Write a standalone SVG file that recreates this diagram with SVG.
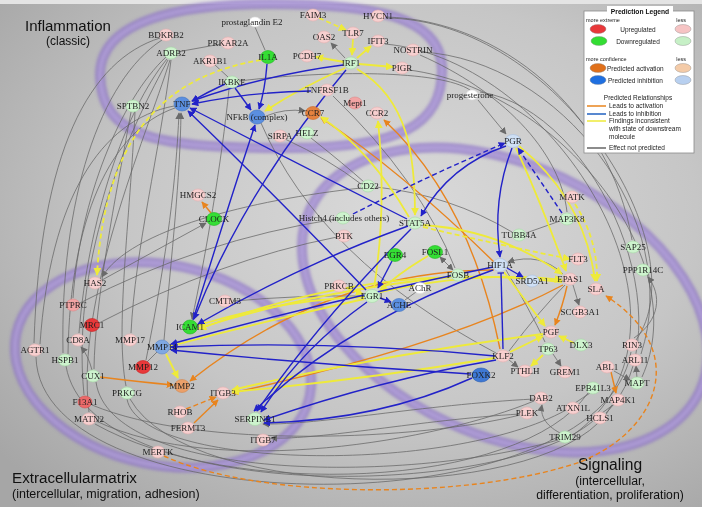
<svg xmlns="http://www.w3.org/2000/svg" width="702" height="507" viewBox="0 0 702 507">
<defs>
<radialGradient id="bg" cx="58%" cy="42%" r="75%">
<stop offset="0" stop-color="#dadada"/><stop offset="0.55" stop-color="#c6c6c6"/><stop offset="1" stop-color="#a6a6a6"/>
</radialGradient>
<filter id="blur" x="-10%" y="-10%" width="120%" height="120%"><feGaussianBlur stdDeviation="1.6"/></filter>
<marker id="ab" viewBox="0 0 10 10" refX="9" refY="5" markerWidth="7" markerHeight="7" markerUnits="userSpaceOnUse" orient="auto"><path d="M0,0 L10,5 L0,10 z" fill="#2222c8"/></marker>
<marker id="ay" viewBox="0 0 10 10" refX="9" refY="5" markerWidth="8" markerHeight="8" markerUnits="userSpaceOnUse" orient="auto"><path d="M0,0 L10,5 L0,10 z" fill="#eeea3a"/></marker>
<marker id="ao" viewBox="0 0 10 10" refX="9" refY="5" markerWidth="7" markerHeight="7" markerUnits="userSpaceOnUse" orient="auto"><path d="M0,0 L10,5 L0,10 z" fill="#e8841e"/></marker>
<marker id="ag" viewBox="0 0 10 10" refX="9" refY="5" markerWidth="7" markerHeight="7" markerUnits="userSpaceOnUse" orient="auto"><path d="M0,0 L10,5 L0,10 z" fill="#6a6a6a"/></marker>
<marker id="ags" viewBox="0 0 10 10" refX="9" refY="5" markerWidth="7" markerHeight="7" markerUnits="userSpaceOnUse" orient="auto-start-reverse"><path d="M0,0 L10,5 L0,10 z" fill="#6a6a6a"/></marker>
<marker id="tb" viewBox="0 0 10 10" refX="9" refY="5" markerWidth="7" markerHeight="7" markerUnits="userSpaceOnUse" orient="auto"><path d="M9,0 L9,10" stroke="#2222c8" stroke-width="2"/></marker>
</defs>
<style>
.b{stroke:#2222c8;stroke-width:1.4;fill:none}
.y{stroke:#eeea3a;stroke-width:1.8;fill:none}
.o{stroke:#e8841e;stroke-width:1.4;fill:none}
.g{stroke:#666666;stroke-width:0.75;fill:none}
.d{stroke-dasharray:5 3}
.band{fill:none;stroke:#8b72c6;stroke-width:10;opacity:0.7}
.bandi{fill:none;stroke:#bba9e4;stroke-width:4;opacity:0.55}
.u1{fill:#f7cfcf;stroke:#e6b0b0;stroke-width:0.6}
.u2{fill:#f2a4a4;stroke:#dd8888;stroke-width:0.6}
.u3{fill:#ec6a6a;stroke:#d05050;stroke-width:0.6}
.ur{fill:#e8383a;stroke:#c82020;stroke-width:0.6}
.d1{fill:#cdf3cd;stroke:#a6daa6;stroke-width:0.6}
.d2{fill:#34de34;stroke:#22b522;stroke-width:0.6}
.ac{fill:#e5823f;stroke:#c86a2a;stroke-width:0.6}
.ac2{fill:#eba06a;stroke:#d08850;stroke-width:0.6}
.ih{fill:#5b8fe0;stroke:#3f72c0;stroke-width:0.6}
.ihd{fill:#3e78d4;stroke:#2a5cb0;stroke-width:0.6}
.ihm{fill:#7fa8e2;stroke:#5f88c6;stroke-width:0.6}
.ih2{fill:#cfe0f5;stroke:#a8c0e0;stroke-width:0.6}
.wh{fill:#ffffff;stroke:#dddddd;stroke-width:0.6}
.t{font-family:"Liberation Serif","DejaVu Serif",serif;font-size:9px;fill:#1e1e1e;text-anchor:middle}
.big{font-family:"Liberation Sans",Arial,sans-serif;fill:#111}
.lg{font-family:"Liberation Sans",Arial,sans-serif;font-size:6.5px;fill:#222}
.lgs{font-family:"Liberation Sans",Arial,sans-serif;font-size:5.5px;fill:#222}
.le{stroke:#888;stroke-width:0.4}
</style>
<rect x="0" y="0" width="702" height="507" fill="url(#bg)"/>
<rect x="0" y="0" width="702" height="4" fill="#e4e4e4"/>

<g id="regions" filter="url(#blur)">
<path class="band" d="M100,75 C100,20 180,4 270,4 C370,4 442,15 442,70 C442,125 400,148 290,148 C160,148 102,140 100,75 Z"/>
<path class="bandi" d="M100,75 C100,20 180,4 270,4 C370,4 442,15 442,70 C442,125 400,148 290,148 C160,148 102,140 100,75 Z"/>
<ellipse class="band" cx="163" cy="365" rx="150" ry="100" transform="rotate(12 163 365)"/>
<ellipse class="bandi" cx="163" cy="365" rx="150" ry="100" transform="rotate(12 163 365)"/>
<ellipse class="band" cx="505" cy="300" rx="215" ry="135" transform="rotate(25 505 300)"/>
<ellipse class="bandi" cx="505" cy="300" rx="215" ry="135" transform="rotate(25 505 300)"/>
</g>

<g id="region-labels">
<text class="big" x="25" y="31" font-size="15">Inflammation</text>
<text class="big" x="68" y="45" font-size="12" text-anchor="middle">(classic)</text>
<text class="big" x="12" y="483" font-size="15.2">Extracellularmatrix</text>
<text class="big" x="12" y="498" font-size="12.5">(intercellular, migration, adhesion)</text>
<text class="big" x="610" y="470" font-size="15.6" text-anchor="middle">Signaling</text>
<text class="big" x="610" y="485" font-size="12.3" text-anchor="middle">(intercellular,</text>
<text class="big" x="610" y="499" font-size="12.2" text-anchor="middle">differentiation, proliferation)</text>
</g>

<g id="connectors">
<!-- gray -->
<path class="g" d="M160,38 C90,60 40,150 34,343"/>
<path class="g" d="M162,40 C100,80 60,200 63,353"/>
<path class="g" d="M166,57 C120,100 80,200 73,298"/>
<path class="g" d="M167,59 C125,110 88,220 79,333"/>
<path class="g" d="M168,60 C135,120 70,250 84,395"/>
<path class="g" d="M170,60 C145,140 75,300 89,412"/>
<path class="g" d="M171,60 C160,150 135,250 131,333"/>
<path class="g" d="M131,112 C115,200 95,300 94,369"/>
<path class="g" d="M135,112 C130,220 115,330 126,386"/>
<path class="g" d="M40,344 C50,200 100,120 174,106"/>
<path class="g" d="M68,354 C70,220 110,130 175,108"/>
<path class="g" stroke-width="1.4" d="M164,340 C172,250 180,180 181,113" marker-end="url(#ag)"/>
<path class="g" stroke-width="1.2" d="M146,360 C168,250 176,180 179,113" marker-end="url(#ag)"/>
<path class="g" d="M361,188 C250,200 130,230 102,277" marker-end="url(#ag)"/>
<path class="g" d="M229,89 C222,160 205,260 192,319" marker-end="url(#ag)"/>
<path class="g" d="M102,280 L206,223" marker-end="url(#ag)"/>
<path class="g" d="M266,116 Q285,108 305,111" marker-end="url(#ag)"/>
<path class="g" d="M80,303 Q200,240 336,219"/>
<path class="g" d="M99,323 Q220,260 337,237"/>
<path class="g" d="M285,139 Q330,160 361,184"/>
<path class="g" d="M311,138 Q345,165 364,182"/>
<path class="g" d="M478,100 L506,134" marker-end="url(#ag)"/>
<path class="g" d="M345,58 L331,43" marker-end="url(#ag)"/>
<path class="g" d="M255,27 L265,50"/>
<path class="g" d="M215,65 L228,77"/>
<path class="g" d="M177,52 L221,44"/>
<path class="g" d="M239,81 C330,70 440,70 470,90"/>
<path class="g" d="M333,96 Q420,180 455,268"/>
<path class="g" d="M261,123 Q320,260 496,353"/>
<path class="g" d="M526,233 L560,221"/>
<path class="g" d="M573,285 L579,305" marker-end="url(#ag)"/>
<path class="g" stroke-width="1" d="M440,257 L453,270" marker-start="url(#ags)" marker-end="url(#ags)"/>
<path class="g" d="M553,354 L561,366" marker-end="url(#ag)"/>
<path class="g" d="M509,360 L518,367" marker-end="url(#ag)"/>
<path class="g" d="M614,371 L630,380" marker-end="url(#ag)"/>
<path class="g" d="M637,378 L636,366" marker-end="url(#ag)"/>
<path class="g" d="M560,433 C545,425 540,415 542,405" marker-end="url(#ag)"/>
<path class="g" d="M575,403 L590,393"/>
<path class="g" d="M602,413 L613,405"/>
<path class="g" d="M520,414 C420,420 320,440 271,438" marker-end="url(#ag)"/>
<path class="g" d="M534,399 C420,405 320,425 263,424" marker-end="url(#ag)"/>
<path class="g" d="M416,292 L405,300"/>
<path class="g" d="M234,301 Q300,295 363,296"/>
<path class="g" d="M563,274 Q540,252 508,262" marker-end="url(#ag)"/>
<path class="g" d="M506,270 Q530,310 545,342"/>
<path class="g" d="M509,351 Q540,310 565,285"/>
<path class="g" d="M512,232 Q450,195 376,187"/>
<path class="g" d="M634,338 C660,320 662,295 648,277" marker-end="url(#ag)"/>
<path class="g" d="M386,17 C500,20 610,110 632,240"/>
<path class="g" d="M422,52 C560,60 685,220 641,354"/>
<path class="g" d="M409,70 C560,90 695,260 642,377"/>
<path class="g" d="M385,44 C560,60 720,330 573,435"/>
<path class="g" d="M480,92 C600,110 690,330 606,413"/>
<path class="g" d="M420,55 C500,90 560,150 567,212"/>
<path class="g" d="M386,18 C560,20 700,250 636,340"/>
<path class="g" d="M92,405 C200,450 420,440 520,415"/>
<path class="g" d="M96,421 C220,480 440,440 534,401"/>
<path class="g" d="M127,399 C140,470 450,475 566,410"/>
<path class="g" d="M96,382 C110,480 400,485 558,440"/>
<path class="g" d="M66,366 C90,505 500,500 593,421"/>
<path class="g" d="M36,357 C40,525 600,530 631,352"/>
<path class="g" d="M130,399 C190,505 560,505 612,405"/>
<path class="g" d="M95,424 C230,500 520,490 588,393"/>
<path class="g" d="M147,362 L157,352"/>
<path class="g" d="M92,370 Q88,355 81,347" marker-end="url(#ag)"/>
<!-- orange -->
<path class="o" d="M211,213 L202,202" marker-end="url(#ao)"/>
<path class="o" d="M494,262 Q400,170 321,118" marker-end="url(#ao)"/>
<path class="o" d="M500,349 Q470,200 384,120" marker-end="url(#ao)"/>
<path class="o" d="M494,270 Q330,270 190,381" marker-end="url(#ao)"/>
<path class="o" d="M563,285 Q450,345 232,393" marker-end="url(#ao)"/>
<path class="o" d="M567,286 Q563,305 555,325" marker-end="url(#ao)"/>
<path class="o" d="M100,377 Q140,382 173,385" marker-end="url(#ao)"/>
<path class="o d" d="M186,409 L216,397" marker-end="url(#ao)"/>
<path class="o" d="M194,423 L218,400" marker-end="url(#ao)"/>
<path class="o d" d="M164,456 C260,500 470,500 580,462 C660,430 690,350 606,296" marker-end="url(#ao)"/>
<path class="o" d="M611,372 L616,393" marker-end="url(#ao)"/>
<!-- yellow -->
<path class="y d" d="M319,18 L346,30" marker-end="url(#ay)"/>
<path class="y" d="M353,39 L352,55" marker-end="url(#ay)"/>
<path class="y" d="M357,58 L371,46" marker-end="url(#ay)"/>
<path class="y" d="M359,64 L393,67" marker-end="url(#ay)"/>
<path class="y" d="M344,62 L316,57" marker-end="url(#ay)"/>
<path class="y" d="M345,68 Q300,88 265,111" marker-end="url(#ay)"/>
<path class="y d" d="M261,60 C170,75 105,130 97,275" marker-end="url(#ay)"/>
<path class="y" d="M357,69 C410,100 415,160 415,215" marker-end="url(#ay)"/>
<path class="y" d="M374,288 C385,220 382,160 378,121" marker-end="url(#ay)"/>
<path class="y" d="M409,217 Q370,150 321,117" marker-end="url(#ay)"/>
<path class="y" d="M346,288 L363,294" marker-end="url(#ay)"/>
<path class="y" d="M428,256 Q400,272 380,291" marker-end="url(#ay)"/>
<path class="y" d="M364,297 Q280,300 199,325" marker-end="url(#ay)"/>
<path class="y" d="M451,277 Q320,290 199,328" marker-end="url(#ay)"/>
<path class="y" d="M166,354 L178,378" marker-end="url(#ay)"/>
<path class="y" d="M495,358 Q360,380 232,392" marker-end="url(#ay)"/>
<path class="y" d="M543,334 Q380,355 232,390" marker-end="url(#ay)"/>
<path class="y" d="M562,282 Q380,260 199,329" marker-end="url(#ay)"/>
<path class="y" d="M423,225 Q500,230 562,274" marker-end="url(#ay)"/>
<path class="y" d="M516,148 Q540,200 566,271" marker-end="url(#ay)"/>
<path class="y" d="M519,146 Q585,200 595,281" marker-end="url(#ay)"/>
<path class="y" d="M504,272 Q525,300 545,326" marker-end="url(#ay)"/>
<path class="y d" d="M575,204 Q598,240 597,281" marker-end="url(#ay)"/>
<path class="y d" d="M423,227 Q500,245 570,259" marker-end="url(#ay)"/>
<path class="y" d="M574,343 L559,336" marker-end="url(#ay)"/>
<path class="y" d="M543,355 L531,366" marker-end="url(#ay)"/>
<path class="y" d="M510,352 L543,336" marker-end="url(#ay)"/>
<path class="y" d="M364,299 Q270,320 171,346" marker-end="url(#ay)"/>
<path class="y" d="M380,292 Q480,270 562,280" marker-end="url(#ay)"/>
<!-- blue -->
<path class="b" d="M343,65 Q265,75 192,101" marker-end="url(#ab)"/>
<path class="b" d="M311,91 Q250,92 192,104" marker-end="url(#ab)"/>
<path class="b" d="M225,84 Q208,92 192,101" marker-end="url(#ab)"/>
<path class="b" d="M235,88 L251,110" marker-end="url(#ab)"/>
<path class="b" d="M267,64 Q265,90 259,109" marker-end="url(#ab)"/>
<path class="b" d="M407,219 Q300,165 190,108" marker-end="url(#ab)"/>
<path class="b" d="M366,290 Q270,190 188,111" marker-end="url(#ab)"/>
<path class="b" d="M367,302 Q300,350 261,412" marker-end="url(#ab)"/>
<path class="b" d="M411,229 Q320,320 257,411" marker-end="url(#ab)"/>
<path class="b" d="M493,270 Q350,320 254,411" marker-end="url(#ab)"/>
<path class="b" d="M496,360 Q380,380 264,420" marker-end="url(#ab)"/>
<path class="b" d="M472,378 Q380,420 264,423" marker-end="url(#ab)"/>
<path class="b" d="M495,356 Q330,340 171,347" marker-end="url(#ab)"/>
<path class="b" d="M493,267 Q330,300 171,344" marker-end="url(#ab)"/>
<path class="b" d="M471,374 Q320,365 171,350" marker-end="url(#ab)"/>
<path class="b" d="M408,226 Q300,265 198,324" marker-end="url(#ab)"/>
<path class="b" d="M346,70 Q245,190 194,319" marker-end="url(#ab)"/>
<path class="b" d="M392,261 L378,288" marker-end="url(#ab)"/>
<path class="b" d="M380,298 L391,302" marker-end="url(#ab)"/>
<path class="b" d="M507,268 L523,277" marker-end="url(#ab)"/>
<path class="b" d="M512,148 Q492,200 500,257" marker-end="url(#ab)"/>
<path class="b" d="M503,349 L501,273" marker-end="url(#tb)"/>
<path class="b" d="M506,146 Q450,165 421,216" marker-end="url(#ab)"/>
<path class="b d" d="M353,214 Q430,175 505,143" marker-end="url(#ab)"/>
<path class="b d" d="M562,213 L518,148" marker-end="url(#ab)"/>
<path class="b" d="M193,320 Q230,200 255,125" marker-end="url(#ab)"/>
</g>

<g id="nodes">
<g id="n-BDKRB2"><ellipse class="u1" cx="166" cy="35" rx="7" ry="6"/><text class="t" x="166" y="38">BDKRB2</text></g>
<g id="n-PRKAR2A"><ellipse class="u1" cx="228" cy="43" rx="7" ry="6"/><text class="t" x="228" y="46">PRKAR2A</text></g>
<g id="n-ADRB2"><ellipse class="d1" cx="171" cy="53" rx="7" ry="6"/><text class="t" x="171" y="56">ADRB2</text></g>
<g id="n-AKR1B1"><ellipse class="u1" cx="210" cy="61" rx="7" ry="6"/><text class="t" x="210" y="64">AKR1B1</text></g>
<g id="n-PGE2"><ellipse class="wh" cx="255" cy="22" rx="6" ry="5"/><text class="t" x="252" y="25">prostaglandin E2</text></g>
<g id="n-IL1A"><ellipse class="d2" cx="268" cy="57" rx="7.5" ry="6.5"/><text class="t" x="268" y="60">IL1A</text></g>
<g id="n-IKBKE"><ellipse class="d1" cx="232" cy="82" rx="7" ry="6"/><text class="t" x="232" y="85">IKBKE</text></g>
<g id="n-SPTBN2"><ellipse class="d1" cx="133" cy="106" rx="7" ry="6"/><text class="t" x="133" y="109">SPTBN2</text></g>
<g id="n-TNF"><ellipse class="ih" cx="182" cy="104" rx="8" ry="7"/><text class="t" x="182" y="107">TNF</text></g>
<g id="n-NFKB"><ellipse class="ih" cx="257" cy="117" rx="8" ry="7"/><text class="t" x="257" y="120">NFkB (complex)</text></g>
<g id="n-FAIM3"><ellipse class="u1" cx="313" cy="15" rx="7" ry="6"/><text class="t" x="313" y="18">FAIM3</text></g>
<g id="n-HVCN1"><ellipse class="u1" cx="378" cy="16" rx="7" ry="6"/><text class="t" x="378" y="19">HVCN1</text></g>
<g id="n-OAS2"><ellipse class="u1" cx="324" cy="37" rx="7" ry="6"/><text class="t" x="324" y="40">OAS2</text></g>
<g id="n-TLR7"><ellipse class="u1" cx="353" cy="33" rx="7" ry="6"/><text class="t" x="353" y="36">TLR7</text></g>
<g id="n-IFIT3"><ellipse class="u1" cx="378" cy="41" rx="7" ry="6"/><text class="t" x="378" y="44">IFIT3</text></g>
<g id="n-NOSTRIN"><ellipse class="u1" cx="413" cy="50" rx="7" ry="6"/><text class="t" x="413" y="53">NOSTRIN</text></g>
<g id="n-PCDH7"><ellipse class="u1" cx="307" cy="56" rx="7" ry="6"/><text class="t" x="307" y="59">PCDH7</text></g>
<g id="n-IRF1"><ellipse class="d1" cx="351" cy="63" rx="7" ry="6"/><text class="t" x="351" y="66">IRF1</text></g>
<g id="n-PIGR"><ellipse class="u1" cx="402" cy="68" rx="7" ry="6"/><text class="t" x="402" y="71">PIGR</text></g>
<g id="n-TNFRSF1B"><ellipse class="u1" cx="327" cy="90" rx="7" ry="6"/><text class="t" x="327" y="93">TNFRSF1B</text></g>
<g id="n-MEPT1"><ellipse class="u2" cx="355" cy="103" rx="7" ry="6"/><text class="t" x="355" y="106">Mept1</text></g>
<g id="n-CCR2"><ellipse class="u1" cx="377" cy="113" rx="7" ry="6"/><text class="t" x="377" y="116">CCR2</text></g>
<g id="n-CCR7"><ellipse class="ac" cx="313" cy="113" rx="7.5" ry="6.5"/><text class="t" x="313" y="116">CCR7</text></g>
<g id="n-SIRPA"><ellipse class="u1" cx="280" cy="136" rx="7" ry="6"/><text class="t" x="280" y="139">SIRPA</text></g>
<g id="n-HELZ"><ellipse class="d1" cx="307" cy="133" rx="7" ry="6"/><text class="t" x="307" y="136">HELZ</text></g>
<g id="n-PROG"><ellipse class="wh" cx="472" cy="95" rx="6" ry="5"/><text class="t" x="470" y="98">progesterone</text></g>
<g id="n-PGR"><ellipse class="ih2" cx="513" cy="141" rx="8" ry="6.5"/><text class="t" x="513" y="144">PGR</text></g>
<g id="n-HMGCS2"><ellipse class="u1" cx="198" cy="195" rx="7" ry="6"/><text class="t" x="198" y="198">HMGCS2</text></g>
<g id="n-CLOCK"><ellipse class="d2" cx="214" cy="219" rx="7.5" ry="6.5"/><text class="t" x="214" y="222">CLOCK</text></g>
<g id="n-CD22"><ellipse class="d1" cx="368" cy="186" rx="7" ry="6"/><text class="t" x="368" y="189">CD22</text></g>
<g id="n-HIST"><ellipse class="d1" cx="343" cy="218" rx="7" ry="6"/><text class="t" x="344" y="221">Histch4 (includes others)</text></g>
<g id="n-STAT5A"><ellipse class="d1" cx="415" cy="223" rx="7" ry="6"/><text class="t" x="415" y="226">STAT5A</text></g>
<g id="n-BTK"><ellipse class="u1" cx="344" cy="236" rx="7" ry="6"/><text class="t" x="344" y="239">BTK</text></g>
<g id="n-EGR4"><ellipse class="d2" cx="395" cy="255" rx="7.5" ry="6.5"/><text class="t" x="395" y="258">EGR4</text></g>
<g id="n-FOSL1"><ellipse class="d2" cx="435" cy="252" rx="7.5" ry="6.5"/><text class="t" x="435" y="255">FOSL1</text></g>
<g id="n-FOSB"><ellipse class="d1" cx="458" cy="275" rx="7" ry="6"/><text class="t" x="458" y="278">FOSB</text></g>
<g id="n-PRKCB"><ellipse class="u1" cx="339" cy="286" rx="7" ry="6"/><text class="t" x="339" y="289">PRKCB</text></g>
<g id="n-EGR1"><ellipse class="d1" cx="372" cy="296" rx="7.5" ry="6.5"/><text class="t" x="372" y="299">EGR1</text></g>
<g id="n-ACHE"><ellipse class="ih" cx="399" cy="305" rx="7.5" ry="6.5"/><text class="t" x="399" y="308">ACHE</text></g>
<g id="n-ACHR"><ellipse class="wh" cx="420" cy="288" rx="6.5" ry="5.5"/><text class="t" x="420" y="291">AChR</text></g>
<g id="n-MATK"><ellipse class="u1" cx="572" cy="197" rx="7" ry="6"/><text class="t" x="572" y="200">MATK</text></g>
<g id="n-MAP3K8"><ellipse class="d1" cx="567" cy="219" rx="7" ry="6"/><text class="t" x="567" y="222">MAP3K8</text></g>
<g id="n-TUBB4A"><ellipse class="d1" cx="519" cy="235" rx="7" ry="6"/><text class="t" x="519" y="238">TUBB4A</text></g>
<g id="n-SAP25"><ellipse class="d1" cx="633" cy="247" rx="7" ry="6"/><text class="t" x="633" y="250">SAP25</text></g>
<g id="n-PPP1R14C"><ellipse class="d1" cx="643" cy="270" rx="7" ry="6"/><text class="t" x="643" y="273">PPP1R14C</text></g>
<g id="n-HIF1A"><ellipse class="ih2" cx="500" cy="265" rx="7.5" ry="6.5"/><text class="t" x="500" y="268">HIF1A</text></g>
<g id="n-SRD5A1"><ellipse class="ih2" cx="532" cy="281" rx="7" ry="6"/><text class="t" x="532" y="284">SRD5A1</text></g>
<g id="n-EPAS1"><ellipse class="u1" cx="570" cy="279" rx="7" ry="6"/><text class="t" x="570" y="282">EPAS1</text></g>
<g id="n-FLT3"><ellipse class="u1" cx="578" cy="259" rx="7" ry="6"/><text class="t" x="578" y="262">FLT3</text></g>
<g id="n-SLA"><ellipse class="u1" cx="596" cy="289" rx="7" ry="6"/><text class="t" x="596" y="292">SLA</text></g>
<g id="n-SCGB3A1"><ellipse class="u1" cx="580" cy="312" rx="7" ry="6"/><text class="t" x="580" y="315">SCGB3A1</text></g>
<g id="n-PGF"><ellipse class="u1" cx="551" cy="332" rx="7" ry="6"/><text class="t" x="551" y="335">PGF</text></g>
<g id="n-DLX3"><ellipse class="d1" cx="581" cy="345" rx="7" ry="6"/><text class="t" x="581" y="348">DLX3</text></g>
<g id="n-TP63"><ellipse class="d1" cx="548" cy="349" rx="7" ry="6"/><text class="t" x="548" y="352">TP63</text></g>
<g id="n-KLF2"><ellipse class="u1" cx="503" cy="356" rx="7" ry="6"/><text class="t" x="503" y="359">KLF2</text></g>
<g id="n-PTHLH"><ellipse class="u1" cx="525" cy="371" rx="7" ry="6"/><text class="t" x="525" y="374">PTHLH</text></g>
<g id="n-GREM1"><ellipse class="u1" cx="565" cy="372" rx="7" ry="6"/><text class="t" x="565" y="375">GREM1</text></g>
<g id="n-RIN3"><ellipse class="u1" cx="632" cy="345" rx="7" ry="6"/><text class="t" x="632" y="348">RIN3</text></g>
<g id="n-ARL11"><ellipse class="u1" cx="635" cy="360" rx="7" ry="6"/><text class="t" x="635" y="363">ARL11</text></g>
<g id="n-ABL1"><ellipse class="u1" cx="607" cy="367" rx="7" ry="6"/><text class="t" x="607" y="370">ABL1</text></g>
<g id="n-FOXK2"><ellipse class="ihd" cx="481" cy="375" rx="9" ry="7"/><text class="t" x="481" y="378">FOXK2</text></g>
<g id="n-MAPT"><ellipse class="d1" cx="637" cy="383" rx="7" ry="6"/><text class="t" x="637" y="386">MAPT</text></g>
<g id="n-EPB41L3"><ellipse class="d1" cx="593" cy="388" rx="7" ry="6"/><text class="t" x="593" y="391">EPB41L3</text></g>
<g id="n-DAB2"><ellipse class="u1" cx="541" cy="398" rx="7" ry="6"/><text class="t" x="541" y="401">DAB2</text></g>
<g id="n-MAP4K1"><ellipse class="u1" cx="618" cy="400" rx="7" ry="6"/><text class="t" x="618" y="403">MAP4K1</text></g>
<g id="n-ATXN1L"><ellipse class="u1" cx="573" cy="408" rx="7" ry="6"/><text class="t" x="573" y="411">ATXN1L</text></g>
<g id="n-PLEK"><ellipse class="u1" cx="527" cy="413" rx="7" ry="6"/><text class="t" x="527" y="416">PLEK</text></g>
<g id="n-HCLS1"><ellipse class="u1" cx="600" cy="418" rx="7" ry="6"/><text class="t" x="600" y="421">HCLS1</text></g>
<g id="n-TRIM29"><ellipse class="d1" cx="565" cy="437" rx="7" ry="6"/><text class="t" x="565" y="440">TRIM29</text></g>
<g id="n-HAS2"><ellipse class="u1" cx="95" cy="283" rx="7" ry="6"/><text class="t" x="95" y="286">HAS2</text></g>
<g id="n-PTPRC"><ellipse class="u2" cx="73" cy="305" rx="7" ry="6"/><text class="t" x="73" y="308">PTPRC</text></g>
<g id="n-MRC1"><ellipse class="ur" cx="92" cy="325" rx="7.5" ry="6.5"/><text class="t" x="92" y="328">MRC1</text></g>
<g id="n-CD8A"><ellipse class="u1" cx="78" cy="340" rx="7" ry="6"/><text class="t" x="78" y="343">CD8A</text></g>
<g id="n-MMP17"><ellipse class="u1" cx="130" cy="340" rx="7" ry="6"/><text class="t" x="130" y="343">MMP17</text></g>
<g id="n-AGTR1"><ellipse class="u1" cx="35" cy="350" rx="7" ry="6"/><text class="t" x="35" y="353">AGTR1</text></g>
<g id="n-HSPB1"><ellipse class="d1" cx="65" cy="360" rx="7" ry="6"/><text class="t" x="65" y="363">HSPB1</text></g>
<g id="n-CUX1"><ellipse class="d1" cx="93" cy="376" rx="7" ry="6"/><text class="t" x="93" y="379">CUX1</text></g>
<g id="n-ICAM1"><ellipse class="d2" cx="190" cy="327" rx="7.5" ry="7"/><text class="t" x="190" y="330">ICAM1</text></g>
<g id="n-MMP14"><ellipse class="ihm" cx="162" cy="347" rx="7.5" ry="7"/><text class="t" x="162" y="350">MMP14</text></g>
<g id="n-MMP12"><ellipse class="ur" cx="143" cy="367" rx="7.5" ry="6.5"/><text class="t" x="143" y="370">MMP12</text></g>
<g id="n-CMTM3"><ellipse class="u1" cx="225" cy="301" rx="7" ry="6"/><text class="t" x="225" y="304">CMTM3</text></g>
<g id="n-PRKCG"><ellipse class="d1" cx="127" cy="393" rx="7" ry="6"/><text class="t" x="127" y="396">PRKCG</text></g>
<g id="n-MMP2"><ellipse class="ac2" cx="182" cy="386" rx="7.5" ry="6.5"/><text class="t" x="182" y="389">MMP2</text></g>
<g id="n-ITGB3"><ellipse class="u1" cx="223" cy="393" rx="7" ry="6"/><text class="t" x="223" y="396">ITGB3</text></g>
<g id="n-F13A1"><ellipse class="u3" cx="85" cy="402" rx="7" ry="6"/><text class="t" x="85" y="405">F13A1</text></g>
<g id="n-MATN2"><ellipse class="u1" cx="89" cy="419" rx="7" ry="6"/><text class="t" x="89" y="422">MATN2</text></g>
<g id="n-RHOB"><ellipse class="u1" cx="180" cy="412" rx="7" ry="6"/><text class="t" x="180" y="415">RHOB</text></g>
<g id="n-FERMT3"><ellipse class="u1" cx="188" cy="428" rx="7" ry="6"/><text class="t" x="188" y="431">FERMT3</text></g>
<g id="n-MERTK"><ellipse class="u1" cx="158" cy="452" rx="7" ry="6"/><text class="t" x="158" y="455">MERTK</text></g>
<g id="n-SERPINE1"><ellipse class="d1" cx="255" cy="419" rx="7.5" ry="6.5"/><text class="t" x="255" y="422">SERPINE1</text></g>
<g id="n-ITGB7"><ellipse class="u1" cx="263" cy="440" rx="7" ry="6"/><text class="t" x="263" y="443">ITGB7</text></g>
</g>

<g id="legend">
<rect x="584" y="11" width="110" height="142" fill="#ffffff" stroke="#8a8a8a" stroke-width="0.8"/>
<rect x="607" y="6" width="66" height="9" fill="#ffffff"/>
<text x="640" y="13.5" text-anchor="middle" font-family="Liberation Sans, Arial, sans-serif" font-size="6.7" font-weight="bold" fill="#111">Prediction Legend</text>
<text class="lgs" x="586" y="22">more extreme</text>
<text class="lgs" x="686" y="22" text-anchor="end">less</text>
<ellipse cx="598" cy="29" rx="8" ry="4.5" fill="#e8383a" class="le"/>
<text class="lg" x="638" y="31.5" text-anchor="middle">Upregulated</text>
<ellipse cx="683" cy="29" rx="8" ry="4.5" fill="#f6c4c4" class="le"/>
<ellipse cx="599" cy="41" rx="8" ry="4.5" fill="#33dd33" class="le"/>
<text class="lg" x="638" y="43.5" text-anchor="middle">Downregulated</text>
<ellipse cx="683" cy="41" rx="8" ry="4.5" fill="#c6f0c6" class="le"/>
<text class="lgs" x="586" y="61">more confidence</text>
<text class="lgs" x="686" y="61" text-anchor="end">less</text>
<ellipse cx="598" cy="68" rx="8" ry="4.5" fill="#e0701a" class="le"/>
<text class="lg" x="607" y="70.5">Predicted activation</text>
<ellipse cx="683" cy="68" rx="8" ry="4.5" fill="#f4cba8" class="le"/>
<ellipse cx="598" cy="80" rx="8" ry="4.5" fill="#1f6fe0" class="le"/>
<text class="lg" x="608" y="82.5">Predicted inhibition</text>
<ellipse cx="683" cy="80" rx="8" ry="4.5" fill="#b8d0f0" class="le"/>
<text class="lg" x="638" y="100" text-anchor="middle">Predicted Relationships</text>
<line x1="587" y1="106" x2="606" y2="106" stroke="#e8841e" stroke-width="1.5"/>
<text class="lg" x="609" y="108">Leads to activation</text>
<line x1="587" y1="114" x2="606" y2="114" stroke="#2060c0" stroke-width="1.5"/>
<text class="lg" x="609" y="116">Leads to inhibition</text>
<line x1="587" y1="121" x2="606" y2="121" stroke="#eeea3a" stroke-width="1.5"/>
<text class="lg" x="609" y="123">Findings inconsistent</text>
<text class="lg" x="609" y="131">with state of downstream</text>
<text class="lg" x="609" y="139">molecule</text>
<line x1="587" y1="148" x2="606" y2="148" stroke="#666666" stroke-width="1.5"/>
<text class="lg" x="609" y="150">Effect not predicted</text>
</g>
</svg>
